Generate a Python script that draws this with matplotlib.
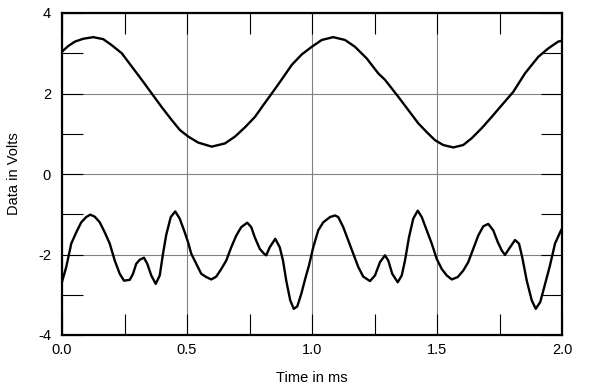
import matplotlib
matplotlib.use("Agg")
import matplotlib.pyplot as plt
from matplotlib.ticker import MultipleLocator

plt.rcParams['font.family'] = ['Liberation Sans', 'DejaVu Sans']

# Upper trace
upper_t = [0.0, 0.025, 0.052, 0.085, 0.125, 0.165, 0.199, 0.239, 0.279, 0.319,
           0.359, 0.399, 0.439, 0.472, 0.505, 0.545, 0.599, 0.652, 0.692, 0.732,
           0.772, 0.805, 0.839, 0.879, 0.919, 0.959, 0.999, 1.039, 1.085, 1.132,
           1.172, 1.219, 1.265, 1.292, 1.345, 1.385, 1.425, 1.459, 1.492, 1.525,
           1.565, 1.605, 1.639, 1.679, 1.719, 1.759, 1.805, 1.852, 1.905, 1.945,
           1.985, 2.0]
upper_v = [3.04, 3.18, 3.29, 3.36, 3.40, 3.35, 3.20, 3.00, 2.67, 2.34,
           2.00, 1.66, 1.34, 1.09, 0.93, 0.78, 0.68, 0.76, 0.93, 1.16,
           1.42, 1.71, 2.00, 2.35, 2.71, 2.97, 3.16, 3.33, 3.40, 3.33,
           3.16, 2.87, 2.50, 2.34, 1.92, 1.59, 1.26, 1.04, 0.84, 0.72,
           0.66, 0.72, 0.89, 1.14, 1.42, 1.71, 2.04, 2.50, 2.91, 3.12,
           3.29, 3.31]

# Lower trace
lower_t = [0.0, 0.017, 0.037, 0.057, 0.077, 0.097, 0.113, 0.131, 0.151, 0.171,
           0.191, 0.211, 0.231, 0.248, 0.271, 0.284, 0.297, 0.311, 0.328, 0.341,
           0.357, 0.375, 0.391, 0.404, 0.417, 0.435, 0.453, 0.471, 0.491, 0.504,
           0.517, 0.537, 0.557, 0.577, 0.597, 0.617, 0.637, 0.657, 0.677, 0.697,
           0.717, 0.741, 0.757, 0.771, 0.791, 0.808, 0.817, 0.831, 0.853, 0.871,
           0.884, 0.897, 0.913, 0.927, 0.941, 0.957, 0.973, 0.988, 1.005, 1.025,
           1.045, 1.072, 1.092, 1.105, 1.125, 1.145, 1.165, 1.185, 1.205, 1.232,
           1.252, 1.272, 1.292, 1.305, 1.321, 1.343, 1.359, 1.372, 1.388, 1.405,
           1.423, 1.439, 1.459, 1.479, 1.499, 1.519, 1.539, 1.559, 1.583, 1.605,
           1.625, 1.645, 1.665, 1.685, 1.705, 1.725, 1.743, 1.759, 1.772, 1.788,
           1.812, 1.828, 1.841, 1.859, 1.879, 1.895, 1.913, 1.929, 1.952, 1.972,
           1.996, 2.0]
lower_v = [-2.68, -2.31, -1.73, -1.45, -1.20, -1.07, -1.01, -1.06, -1.20, -1.45,
           -1.73, -2.15, -2.48, -2.65, -2.63, -2.48, -2.23, -2.13, -2.08, -2.23,
           -2.52, -2.73, -2.52, -1.98, -1.51, -1.07, -0.93, -1.11, -1.45, -1.69,
           -1.98, -2.23, -2.48, -2.56, -2.62, -2.55, -2.36, -2.15, -1.82, -1.53,
           -1.32, -1.21, -1.32, -1.57, -1.86, -1.98, -2.02, -1.82, -1.61, -1.82,
           -2.15, -2.65, -3.14, -3.35, -3.29, -2.98, -2.60, -2.27, -1.82, -1.40,
           -1.20, -1.07, -1.03, -1.07, -1.32, -1.65, -1.98, -2.31, -2.55, -2.66,
           -2.52, -2.19, -2.02, -2.15, -2.48, -2.69, -2.52, -2.15, -1.57, -1.11,
           -0.91, -1.07, -1.40, -1.73, -2.11, -2.36, -2.52, -2.62, -2.56, -2.40,
           -2.19, -1.86, -1.53, -1.30, -1.24, -1.40, -1.69, -1.90, -2.01, -1.86,
           -1.64, -1.73, -2.07, -2.65, -3.14, -3.35, -3.18, -2.81, -2.27, -1.73,
           -1.40, -1.36]

x_ticks = [0.0, 0.5, 1.0, 1.5, 2.0]
x_tick_labels = ["0.0", "0.5", "1.0", "1.5", "2.0"]
y_ticks = [-4, -2, 0, 2, 4]
y_tick_labels = ["-4", "-2", "0", "2", "4"]

fig = plt.figure(figsize=(6.0, 3.92), dpi=100)
ax = fig.add_axes([62/600, 57/392, 500/600, 322/392])

ax.plot(upper_t, upper_v, color='black', lw=1.7, solid_joinstyle='round')
ax.plot(lower_t, lower_v, color='black', lw=1.7, solid_joinstyle='round')

ax.set_xlim(0, 2.0)
ax.set_ylim(-4, 4)
ax.set_xticks(x_ticks)
ax.set_xticklabels(x_tick_labels)
ax.set_yticks(y_ticks)
ax.set_yticklabels(y_tick_labels)
ax.xaxis.set_minor_locator(MultipleLocator(0.25))
ax.yaxis.set_minor_locator(MultipleLocator(1))

ax.grid(True, which='major', color='#808080', lw=0.8)
ax.set_axisbelow(True)

ax.tick_params(which='both', direction='in', top=True, right=True,
               length=15, width=0.8, color='black', labelsize=10.5)
ax.tick_params(axis='x', pad=6)
ax.tick_params(axis='y', pad=8)
for s in ax.spines.values():
    s.set_linewidth(1.6)

ax.set_xlabel("Time in ms", fontsize=10.5, labelpad=10)
ax.set_ylabel("Data in Volts", fontsize=10.5, labelpad=12)

fig.savefig("out.png", dpi=100)
